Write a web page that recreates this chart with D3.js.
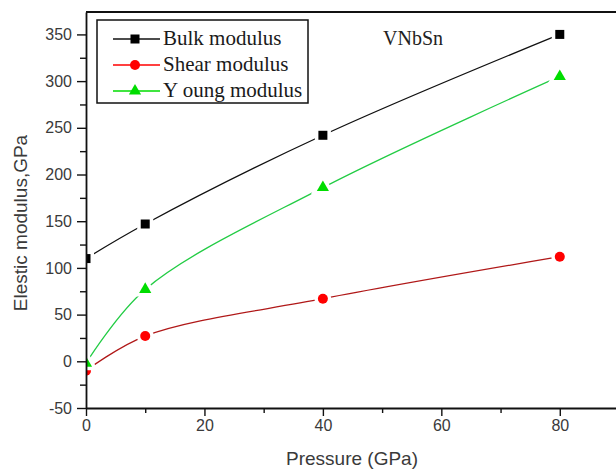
<!DOCTYPE html>
<html>
<head>
<meta charset="utf-8">
<script src="https://cdn.jsdelivr.net/npm/d3@7"></script>
<style>
  html, body { margin: 0; padding: 0; background: #fff; }
</style>
</head>
<body>
<div id="chart"></div>
<script>
// Data
const pressure = [0, 10, 40, 80];
const bulk  = [110, 147, 242, 350];
const shear = [-10, 27, 67, 112];
const young = [-2, 77, 186, 305];

const seriesNames = ["Bulk modulus", "Shear modulus", "Y oung modulus"];
const xTicks = [0, 20, 40, 60, 80];
const yTicks = [-50, 0, 50, 100, 150, 200, 250, 300, 350];

const width = 616, height = 472;
const margin = {top: 12, right: -3, bottom: 64, left: 86};

const svg = d3.select("#chart")
  .append("svg")
  .attr("width", width)
  .attr("height", height);

const x = d3.scaleLinear().domain([0, 90]).range([margin.left, width - margin.right]);
const y = d3.scaleLinear().domain([-50, 374]).range([height - margin.bottom, margin.top]);

const series = [
  {name: seriesNames[0], values: bulk,  color: "#000000", line: "#111111", shape: "square"},
  {name: seriesNames[1], values: shear, color: "#ff0000", line: "#b01818", shape: "circle"},
  {name: seriesNames[2], values: young, color: "#00dd00", line: "#22cc44", shape: "triangle"}
];

// clip region for the plot area
svg.append("clipPath").attr("id", "plotclip")
  .append("rect")
  .attr("x", x(0)).attr("y", y(374))
  .attr("width", x(90) - x(0)).attr("height", y(-50) - y(374));

const plot = svg.append("g").attr("clip-path", "url(#plotclip)");

const lineGen = d3.line()
  .x(d => x(d[0]))
  .y(d => y(d[1]))
  .curve(d3.curveCatmullRom.alpha(0.5));

function drawMarker(g, shape, color, cx, cy, halo) {
  let m;
  if (shape === "square") {
    m = g.append("rect")
      .attr("x", cx - 4.5).attr("y", cy - 4.5)
      .attr("width", 9).attr("height", 9);
  } else if (shape === "circle") {
    m = g.append("circle")
      .attr("cx", cx).attr("cy", cy).attr("r", 5);
  } else {
    m = g.append("path")
      .attr("d", d3.symbol().type(d3.symbolTriangle).size(64)())
      .attr("transform", `translate(${cx},${cy})`);
  }
  m.attr("fill", color);
  if (halo) {
    m.attr("stroke", "#fff").attr("stroke-width", 7).attr("paint-order", "stroke");
  }
}

// Lines
series.forEach(s => {
  plot.append("path")
    .datum(pressure.map((p, i) => [p, s.values[i]]))
    .attr("fill", "none")
    .attr("stroke", s.line)
    .attr("stroke-width", 1.3)
    .attr("d", lineGen);
});

// Markers (white halo gives the gap between line and symbol)
series.forEach(s => {
  pressure.forEach((p, i) => drawMarker(plot, s.shape, s.color, x(p), y(s.values[i]), true));
});

// Axes
const fmt = d => String(d);
svg.append("g")
  .attr("transform", `translate(0,${y(-50)})`)
  .call(d3.axisBottom(x).tickValues(xTicks).tickFormat(fmt).tickSize(8).tickSizeOuter(0).tickPadding(4));
svg.append("g")
  .attr("transform", `translate(0,${y(-50)})`)
  .call(d3.axisBottom(x).tickValues([10, 30, 50, 70]).tickSize(5).tickFormat(""))
  .select(".domain").remove();

svg.append("g")
  .attr("transform", `translate(${x(0)},0)`)
  .call(d3.axisLeft(y).tickValues(yTicks).tickFormat(fmt).tickSize(9).tickSizeOuter(0).tickPadding(5));
svg.append("g")
  .attr("transform", `translate(${x(0)},0)`)
  .call(d3.axisLeft(y).tickValues([-25, 25, 75, 125, 175, 225, 275, 325]).tickSize(6).tickFormat(""))
  .select(".domain").remove();

svg.selectAll(".domain").attr("stroke", "#111").attr("stroke-width", 1.8);
svg.selectAll(".tick line").attr("stroke", "#111").attr("stroke-width", 1.4);
svg.selectAll(".tick text")
  .attr("fill", "#3a3a3a")
  .style("font-family", "'Liberation Sans', Arial, sans-serif")
  .style("font-size", "16px");

// top frame line
svg.append("line")
  .attr("x1", x(0)).attr("x2", x(90))
  .attr("y1", y(374)).attr("y2", y(374))
  .attr("stroke", "#111").attr("stroke-width", 1.8);

// Axis titles
svg.append("text")
  .attr("x", 352)
  .attr("y", 465)
  .attr("text-anchor", "middle")
  .attr("fill", "#3a3a3a")
  .style("font-family", "'Liberation Sans', Arial, sans-serif")
  .style("font-size", "19px")
  .text("Pressure (GPa)");

svg.append("text")
  .attr("transform", "translate(27,223) rotate(-90)")
  .attr("text-anchor", "middle")
  .attr("fill", "#3a3a3a")
  .style("font-family", "'Liberation Sans', Arial, sans-serif")
  .style("font-size", "19px")
  .text("Elestic modulus,GPa");

// Compound label
svg.append("text")
  .attr("x", 383)
  .attr("y", 45)
  .attr("fill", "#222")
  .style("font-family", "'Liberation Serif', 'Times New Roman', serif")
  .style("font-size", "20px")
  .text("VNbSn");

// Legend
const legend = svg.append("g");
legend.append("rect")
  .attr("x", 97).attr("y", 20)
  .attr("width", 211).attr("height", 83)
  .attr("fill", "#fff")
  .attr("stroke", "#111").attr("stroke-width", 1.5);

series.forEach((s, i) => {
  const cy = 39 + i * 26;
  legend.append("line")
    .attr("x1", 113).attr("x2", 160)
    .attr("y1", cy).attr("y2", cy)
    .attr("stroke", s.color === "#000000" ? "#111" : s.color)
    .attr("stroke-width", 1.6);
  drawMarker(legend, s.shape, s.color, 135, cy, false);
  legend.append("text")
    .attr("x", 163)
    .attr("y", cy + 6)
    .attr("fill", "#1a1a1a")
    .style("font-family", "'Liberation Serif', 'Times New Roman', serif")
    .style("font-size", "21px")
    .text(s.name);
});
</script>
</body>
</html>
